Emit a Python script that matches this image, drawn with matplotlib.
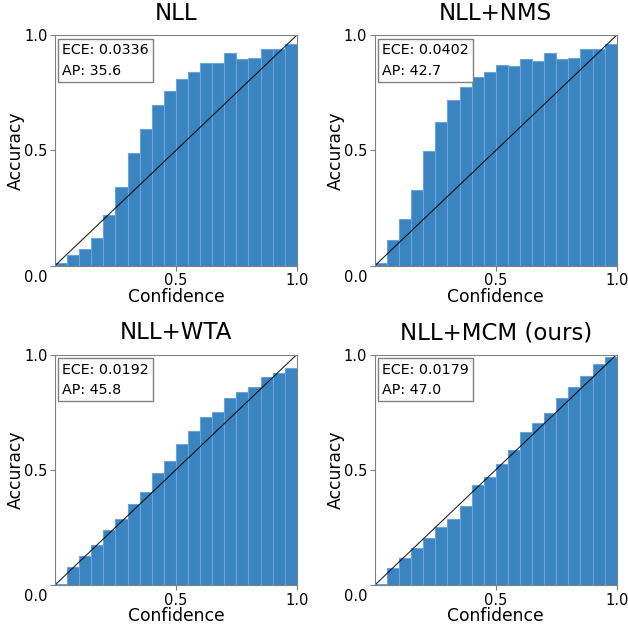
# Reliability diagrams for four training variants

import numpy as np
import matplotlib.pyplot as plt
from matplotlib.transforms import ScaledTranslation

# bin edges (20 bins over confidence)
bin_lefts = np.arange(0, 1.0, 0.05)

titles = ['NLL', 'NLL+NMS', 'NLL+WTA', 'NLL+MCM (ours)']
ece = ['0.0336', '0.0402', '0.0192', '0.0179']
ap = ['35.6', '42.7', '45.8', '47.0']

acc_nll = [0.01, 0.045, 0.072, 0.121, 0.218, 0.341, 0.487, 0.595, 0.696, 0.756,
           0.810, 0.839, 0.880, 0.880, 0.921, 0.895, 0.899, 0.942, 0.938, 0.961]
acc_nms = [0.01, 0.112, 0.203, 0.327, 0.497, 0.624, 0.720, 0.774, 0.817, 0.839,
           0.870, 0.866, 0.896, 0.886, 0.922, 0.895, 0.899, 0.942, 0.938, 0.961]
acc_wta = [0.006, 0.078, 0.125, 0.172, 0.238, 0.287, 0.351, 0.404, 0.486, 0.538,
           0.610, 0.668, 0.728, 0.752, 0.812, 0.839, 0.858, 0.904, 0.919, 0.942]
acc_mcm = [0.006, 0.074, 0.116, 0.162, 0.203, 0.251, 0.288, 0.341, 0.435, 0.470,
           0.526, 0.587, 0.664, 0.704, 0.748, 0.812, 0.861, 0.907, 0.957, 0.988]

accs = [acc_nll, acc_nms, acc_wta, acc_mcm]

fig = plt.figure(figsize=(6.28, 6.28), dpi=100)
positions = [
    [0.0876, 0.577, 0.385, 0.367],
    [0.597, 0.577, 0.385, 0.367],
    [0.0876, 0.0685, 0.385, 0.367],
    [0.597, 0.0685, 0.385, 0.367],
]

for pos, title, e, a, acc in zip(positions, titles, ece, ap, accs):
    ax = fig.add_axes(pos)
    ax.bar(bin_lefts, acc, width=0.05, align='edge',
           color='#3a84c0', edgecolor='#6aa3dc', linewidth=0.8)
    ax.plot([0, 1], [0, 1], color='black', linewidth=0.8, alpha=0.85)
    ax.set_xlim(0, 1)
    ax.set_ylim(0, 1)
    ax.set_xticks([0.5, 1.0])
    ax.set_yticks([0.0, 0.5, 1.0])
    ax.set_xticklabels(['0.5', '1.0'])
    ax.set_yticklabels(['0.0', '0.5', '1.0'])
    ax.tick_params(labelsize=10.5, color='gray', pad=2)
    # the 0.0 label sits below the corner, level with the x tick labels
    lab0 = ax.get_yticklabels()[0]
    lab0.set_va('top')
    lab0.set_transform(lab0.get_transform() + ScaledTranslation(0, -3 / 72, fig.dpi_scale_trans))
    for sp in ax.spines.values():
        sp.set_color('gray')
    ax.set_title(title, fontsize=16.5, pad=11)
    ax.set_xlabel('Confidence', fontsize=12.3, labelpad=-0.5)
    ax.set_ylabel('Accuracy', fontsize=12.3, labelpad=-0.5)
    ax.text(0.03, 0.965, 'ECE: ' + e + '\nAP: ' + a, transform=ax.transAxes,
            fontsize=10.3, va='top', ha='left', linespacing=1.6,
            bbox=dict(boxstyle='square,pad=0.3', facecolor='white', edgecolor='gray'))

fig.savefig('out.png', dpi=100)
